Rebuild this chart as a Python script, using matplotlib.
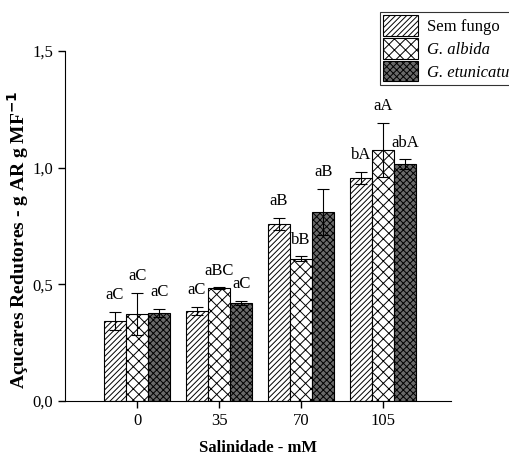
import numpy as np
import matplotlib
matplotlib.use('Agg')
import matplotlib.pyplot as plt

plt.rcParams['font.family'] = ['Liberation Serif', 'DejaVu Serif']
plt.rcParams['hatch.linewidth'] = 0.7

# dados
salinidade = ['0', '35', '70', '105']
series = ['Sem fungo', 'G. albida', 'G. etunicatum']
sem_fungo = [0.343, 0.386, 0.759, 0.956]
sem_fungo_err = [0.038, 0.017, 0.025, 0.025]
albida = [0.373, 0.484, 0.609, 1.075]
albida_err = [0.090, 0.003, 0.011, 0.117]
etunicatum = [0.377, 0.420, 0.810, 1.016]
etunicatum_err = [0.017, 0.010, 0.099, 0.020]
letras_sem = ['aC', 'aC', 'aB', 'bA']
letras_alb = ['aC', 'aBC', 'bB', 'aA']
letras_etu = ['aC', 'aC', 'aB', 'abA']

fig = plt.figure(figsize=(5.09, 4.59), dpi=100)
ax = fig.add_axes([0.1277, 0.1264, 0.886 - 0.1277, 0.889 - 0.1264])

x = np.arange(len(salinidade))
w = 0.27
styles = [
    dict(facecolor='white', hatch='//////'),
    dict(facecolor='white', hatch='xxx'),
    dict(facecolor='#6a6a6a', hatch='xxxxx'),
]
vals = [sem_fungo, albida, etunicatum]
errs = [sem_fungo_err, albida_err, etunicatum_err]
letras = [letras_sem, letras_alb, letras_etu]

for i in range(3):
    pos = x + (i - 1) * w
    ax.bar(pos, vals[i], w, edgecolor='black', linewidth=0.8, label=series[i],
           yerr=errs[i], capsize=4, error_kw=dict(elinewidth=0.8, capthick=0.8, ecolor='black'),
           **styles[i])
    for p, v, e, t in zip(pos, vals[i], errs[i], letras[i]):
        ax.annotate(t, (p, v + e), xytext=(0, 12), textcoords='offset points',
                    ha='center', va='center', fontsize=12)

ax.set_xlim(-0.88, 3.83)
ax.set_ylim(0, 1.5)
ax.set_xticks(x)
ax.set_xticklabels(salinidade, fontsize=12)
ax.set_yticks([0, 0.5, 1.0, 1.5])
ax.set_yticklabels(['0,0', '0,5', '1,0', '1,5'], fontsize=12)
ax.spines['top'].set_visible(False)
ax.spines['right'].set_visible(False)
ax.tick_params(direction='out', length=5, width=1)
ax.set_xlabel('Salinidade - mM', fontsize=12, fontweight='bold', labelpad=8)
ax.set_ylabel('Açucares Redutores - g AR g MF$^{\\mathbf{-1}}$', fontsize=14, fontweight='bold')
ax.yaxis.set_label_coords(-0.088, 0.46)

h, l = ax.get_legend_handles_labels()
leg = fig.legend(h, l, loc='upper left', bbox_to_anchor=(380 / 509, 1 - 12 / 459),
                 fontsize=12, frameon=True, fancybox=False, edgecolor='black',
                 handlelength=2.1, handleheight=1.5, handletextpad=0.5,
                 borderpad=0.2, labelspacing=0.15, borderaxespad=0)
for t in leg.get_texts()[1:]:
    t.set_fontstyle('italic')
leg.get_frame().set_linewidth(0.8)

fig.savefig('out.png', dpi=100)
